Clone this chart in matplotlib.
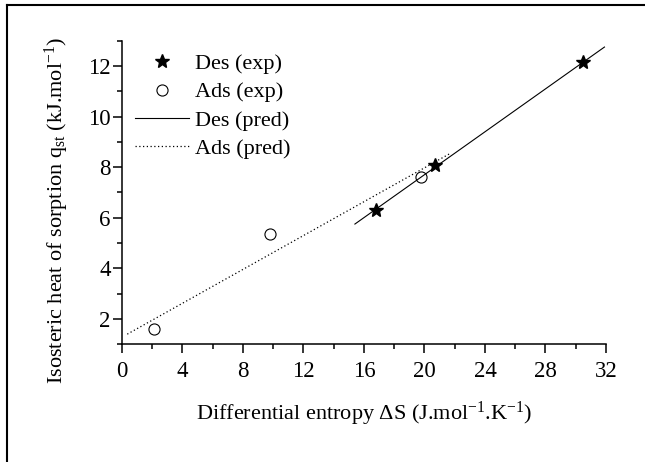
import matplotlib
matplotlib.use("Agg")
import matplotlib.pyplot as plt
from matplotlib.lines import Line2D

plt.rcParams['font.family'] = 'Liberation Serif'
plt.rcParams['mathtext.fontset'] = 'custom'
plt.rcParams['mathtext.rm'] = 'Liberation Serif'
plt.rcParams['mathtext.it'] = 'Liberation Serif:italic'

# experimental points
des_x = [16.8, 20.7, 30.5]
des_y = [6.3, 8.1, 12.15]
ads_x = [2.1, 9.8, 19.8]
ads_y = [1.58, 5.35, 7.6]

# predicted lines (end points)
des_pred_x = [15.4, 31.9]
des_pred_y = [5.75, 12.76]
ads_pred_x = [0.35, 21.65]
ads_pred_y = [1.39, 8.53]

x_ticks = [0, 4, 8, 12, 16, 20, 24, 28, 32]
y_ticks = [2, 4, 6, 8, 10, 12]

fig = plt.figure(figsize=(6.45, 4.62), dpi=100)
ax = fig.add_axes([0.1891, 0.2554, 0.7504, 0.6559])

ax.plot(des_x, des_y, linestyle='none', marker='*', color='black',
        markersize=10, label='Des (exp)')
ax.plot(ads_x, ads_y, linestyle='none', marker='o', markerfacecolor='white',
        markeredgecolor='black', markeredgewidth=0.8, markersize=8, label='Ads (exp)')
ax.plot(des_pred_x, des_pred_y, color='black', lw=0.8, label='Des (pred)')
ax.plot(ads_pred_x, ads_pred_y, color='black', lw=0.9, linestyle=(0, (1, 2)),
        label='Ads (pred)')

ax.set_xlim(0, 32)
ax.set_ylim(1, 13)
ax.set_xticks(x_ticks)
ax.set_yticks(y_ticks)
ax.set_xticks(range(2, 32, 4), minor=True)
ax.set_yticks([1, 3, 5, 7, 9, 11, 13], minor=True)

for s in ['top', 'right']:
    ax.spines[s].set_visible(False)
for s in ['left', 'bottom']:
    ax.spines[s].set_linewidth(1.1)

ax.tick_params(which='major', direction='out', length=6.5, width=1.1, labelsize=16.5)
ax.tick_params(which='minor', direction='out', length=3.6, width=1.1)
ax.tick_params(axis='y', pad=1.5)
ax.tick_params(axis='x', pad=5.5)

ax.set_xlabel(r'Differential entropy $\Delta$S (J.mol$^{\mathregular{-1}}$.K$^{\mathregular{-1}}$)',
              fontsize=16)
ax.set_ylabel(r'Isosteric heat of sorption q$_{\mathregular{st}}$ (kJ.mol$^{\mathregular{-1}}$)',
              fontsize=16)
ax.xaxis.set_label_coords(0.5, -0.185)
ax.yaxis.set_label_coords(-0.105, 0.44)

ax.legend(loc='upper left', bbox_to_anchor=(0.0, 1.003), frameon=False, fontsize=16,
          handlelength=2.4, handletextpad=0.27, labelspacing=0.35, borderaxespad=0.2)

# outer frame (left and top edges)
fig.add_artist(Line2D([0.0113, 0.0113], [0.0, 0.9898], color='black', lw=1.5,
                      transform=fig.transFigure))
fig.add_artist(Line2D([0.0113, 1.0], [0.9898, 0.9898], color='black', lw=1.5,
                      transform=fig.transFigure))

fig.savefig('out.png', dpi=100)
